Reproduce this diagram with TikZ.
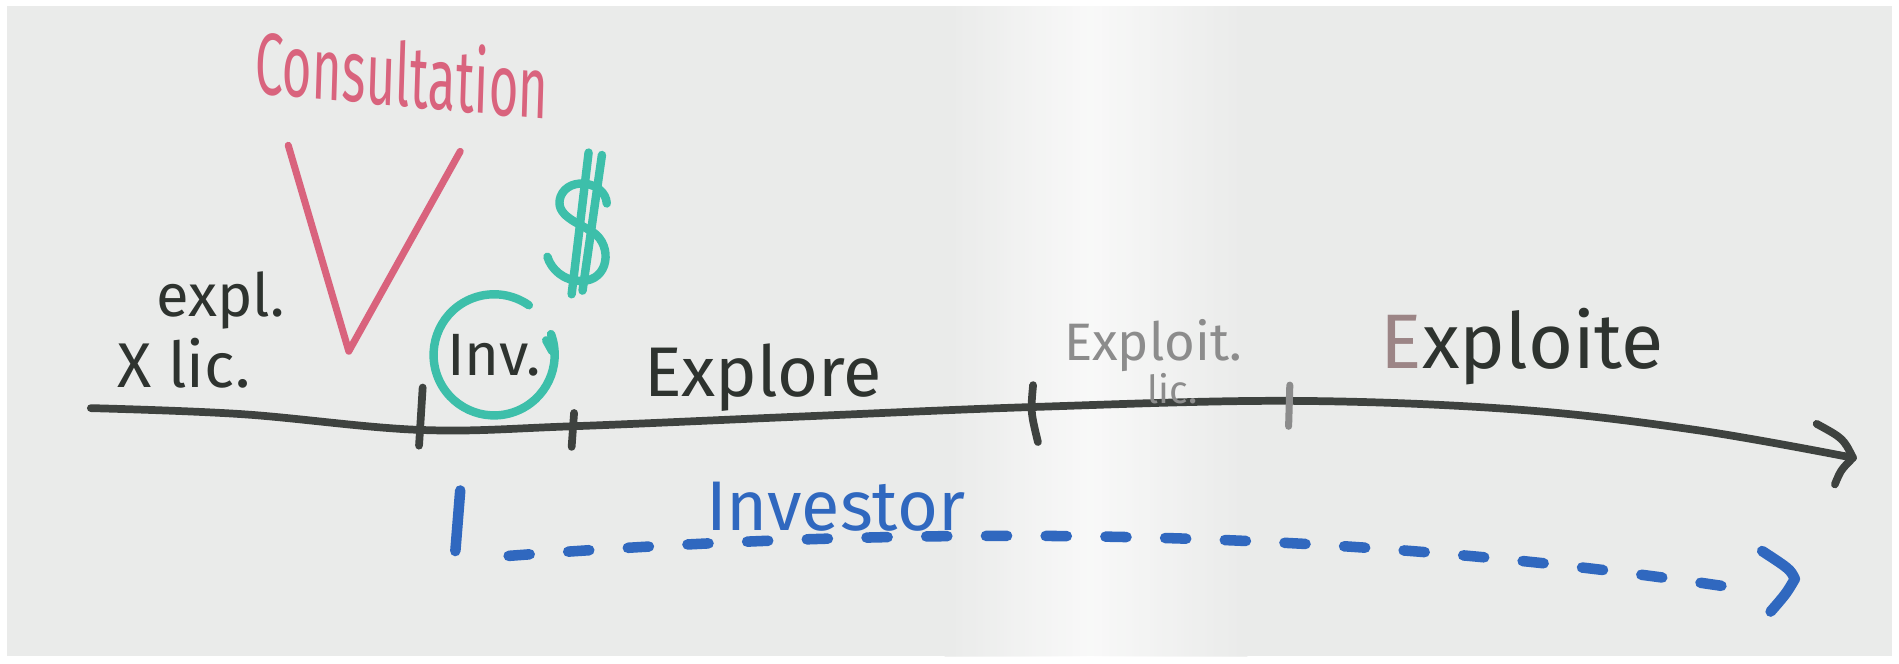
\documentclass[tikz,border=0pt]{standalone}
\usepackage{fontspec}
\setmainfont{Fira Sans}
\definecolor{board}{HTML}{EAEBEA}
\definecolor{inkblack}{HTML}{2E332F}
\definecolor{inkline}{HTML}{3E423F}
\definecolor{inkpink}{HTML}{D9637D}
\definecolor{inkteal}{HTML}{3DBFAA}
\definecolor{inkblue}{HTML}{3068BF}
\definecolor{inkgrey}{HTML}{8C8C8C}
\definecolor{inkrose}{HTML}{9C8586}
\begin{document}
\begin{tikzpicture}[x=0.01211cm,y=-0.01211cm,line cap=round,line join=round,
  blackline/.style={draw=inkline,line width=2.2pt},
  pinkline/.style={draw=inkpink,line width=2pt},
  tealline/.style={draw=inkteal,line width=2.4pt},
  blueline/.style={draw=inkblue,line width=3pt},
  hand/.style={inner sep=0pt,transform shape},
]
\useasboundingbox (0,0) rectangle (1568,547.5);
\fill[white] (0,0) rectangle (1568,547.5);
\fill[board] (6,5) rectangle (1562,542);
\shade[left color=board,right color=white,opacity=0.7] (780,5) rectangle (900,542);
\shade[left color=white,right color=board,opacity=0.7] (900,5) rectangle (1030,542);

% timeline
\coordinate (t0) at (75,337);
\coordinate (t1) at (347,355);
\coordinate (t2) at (472,352);
\coordinate (t3) at (855,336);
\coordinate (t4) at (1065,331);
\coordinate (tend) at (1530,378);
\draw[blackline] plot[smooth,tension=0.6] coordinates {(t0) (200,342) (t1) (t2) (660,344) (t3) (t4) (1250,338) (1400,355) (tend)};
\draw[blackline] (1500,350) .. controls (1522,362) .. (tend) .. controls (1520,388) .. (1515,400);

% ticks
\draw[blackline] (349,320) -- (346,368);
\draw[blackline] (474,341) -- (472,369);
\draw[blackline] (853,318) .. controls (851,340) .. (857,365);
\draw[draw=inkgrey,line width=2pt] (1065,318) -- (1064,352);

% left labels
\node[hand,font=\fontsize{17}{17}\selectfont,text=inkblack] (expl) at (182,248) {expl.};
\node[hand,font=\fontsize{18}{18}\selectfont,text=inkblack] (xlic) at (152,300) {X lic.};

% consultation
\node[hand,font=\fontsize{25}{25}\selectfont,text=inkpink,xscale=0.58,rotate=-3] (cons) at (332,60) {Consultation};
\draw[pinkline] (238,120) -- (288,290) -- (380,125);

% dollar (hand drawn)
\coordinate (dc) at (480,187);
\draw[tealline] (501,168) .. controls (500,150) and (470,145) .. (463,162)
  .. controls (457,178) and (478,184) .. (490,192)
  .. controls (506,203) and (503,232) .. (480,232)
  .. controls (465,232) and (455,222) .. (452,212);
\draw[tealline] (486,126) -- (472,243);
\draw[tealline] (497,128) -- (481,240);

% Inv circle
\coordinate (ic) at (408,293);
\node[hand,font=\fontsize{17}{17}\selectfont,text=inkblack] (inv) at (ic) {Inv.};
\draw[tealline] (ic) ++(-20:50) arc[start angle=-20,end angle=305,radius=50];
\draw[tealline] (451,281) -- (456,290);

% Explore
\node[hand,font=\fontsize{20}{20}\selectfont,text=inkblack] (explore) at (630,312) {Explore};

% Exploit lic
\node[hand,font=\fontsize{15}{15}\selectfont,text=inkgrey] (exploit) at (952,285) {Exploit.};
\node[hand,font=\fontsize{11}{11}\selectfont,text=inkgrey] (lic) at (968,321) {lic.};

% Exploite
\node[hand,font=\fontsize{22}{22}\selectfont,text=inkblack] (exploite) at (1257,286) {\textcolor{inkrose}{E}xploite};

% Investor
\draw[blueline] (380,405) -- (376,455);
\node[hand,font=\fontsize{20}{20}\selectfont,text=inkblue] (investor) at (690,418) {Investor};
\coordinate (b0) at (420,459);
\coordinate (b1) at (1430,485);
\draw[blueline,dash pattern=on 6pt off 11pt] (b0) .. controls (700,438) and (1050,428) .. (b1);
\draw[blueline] (1455,455) .. controls (1478,470) .. (1482,478) .. controls (1475,490) .. (1462,505);
\end{tikzpicture}
\end{document}
